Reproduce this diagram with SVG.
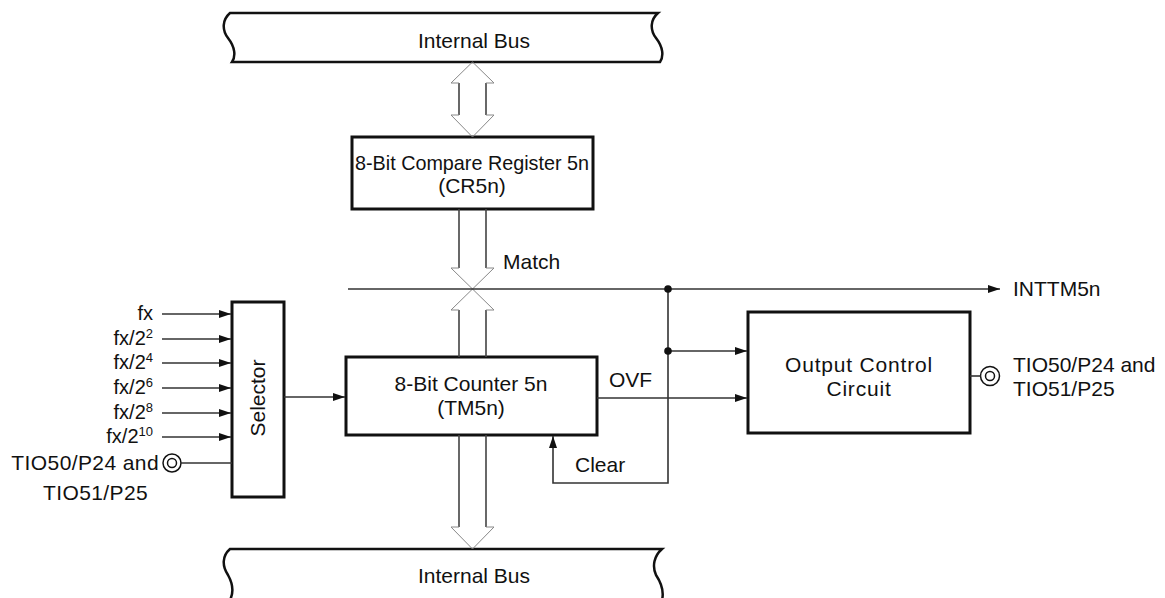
<svg xmlns="http://www.w3.org/2000/svg" width="1165" height="598" viewBox="0 0 1165 598">
<style>
text{font-family:"Liberation Sans",Arial,Helvetica,sans-serif;font-size:21px;fill:#111}
.sm{font-size:20px}
.box{fill:#fff;stroke:#111;stroke-width:3}
.bus{fill:#fff;stroke:#111;stroke-width:2.5}
.ln{fill:none;stroke:#333;stroke-width:1.6}
.sh{fill:none;stroke:#444;stroke-width:1.6}
.hd{fill:none;stroke:#888;stroke-width:1}
.mid{text-anchor:middle}
.end{text-anchor:end}
</style>
<defs>
<marker id="ah" viewBox="0 0 12 8" refX="12" refY="4" markerWidth="12" markerHeight="8" markerUnits="userSpaceOnUse" orient="auto">
<path d="M0,0 L12,4 L0,8 z" fill="#111"/>
</marker>
</defs>

<g id="bus-top">
<path class="bus" d="M230,13 L658,13 C650,20 650,30 656,38 C663,47 664,56 660,62 L232,62 C236,56 235,47 228,38 C222,30 222,20 230,13 Z"/>
<text class="mid" x="474" y="48">Internal Bus</text>
</g>

<g id="bus-bottom">
<path class="bus" d="M230,549 L662,549 C654,556 652,566 656,575 C662,584 664,592 662,600 L230,600 C234,592 233,584 228,575 C222,566 222,556 230,549 Z"/>
<text class="mid" x="474" y="583">Internal Bus</text>
</g>

<g id="cr5n">
<rect class="box" x="352" y="137" width="241" height="72"/>
<text class="mid" x="472" y="170" font-size="20" textLength="234" lengthAdjust="spacingAndGlyphs">8-Bit Compare Register 5n</text>
<text class="mid" x="472" y="193">(CR5n)</text>
</g>

<g id="tm5n">
<rect class="box" x="346" y="357" width="251" height="78"/>
<text class="mid" x="471" y="391">8-Bit Counter 5n</text>
<text class="mid" x="471" y="415">(TM5n)</text>
</g>

<g id="selector">
<rect class="box" x="232" y="302" width="52" height="195"/>
<text class="mid" transform="translate(265,398) rotate(-90)">Selector</text>
</g>

<g id="output-control">
<rect class="box" x="748" y="312" width="222" height="121"/>
<text class="mid" x="859" y="372" letter-spacing="0.8">Output Control</text>
<text class="mid" x="859" y="396" letter-spacing="0.8">Circuit</text>
</g>

<g id="inputs">
<text class="end sm" x="153" y="320">fx</text>
<text class="end sm" x="153" y="345">fx/2<tspan font-size="13" dy="-7">2</tspan></text>
<text class="end sm" x="153" y="369">fx/2<tspan font-size="13" dy="-7">4</tspan></text>
<text class="end sm" x="153" y="394">fx/2<tspan font-size="13" dy="-7">6</tspan></text>
<text class="end sm" x="153" y="419">fx/2<tspan font-size="13" dy="-7">8</tspan></text>
<text class="end sm" x="153" y="443">fx/2<tspan font-size="13" dy="-7">10</tspan></text>
</g>

<g id="pin-in">
<circle cx="172" cy="463" r="9" fill="#fff" stroke="#111" stroke-width="1.5"/>
<circle cx="172" cy="463" r="4.5" fill="none" stroke="#111" stroke-width="1.5"/>
<text class="end" x="159" y="470" letter-spacing="0.4">TIO50/P24 and</text>
<text x="43" y="500" letter-spacing="0.4">TIO51/P25</text>
</g>

<g id="pin-out">
<circle cx="990" cy="376" r="9.5" fill="#fff" stroke="#111" stroke-width="1.5"/>
<circle cx="990" cy="376" r="4.5" fill="none" stroke="#111" stroke-width="1.5"/>
<text x="1013" y="372">TIO50/P24 and</text>
<text x="1013" y="396">TIO51/P25</text>
</g>

<g id="connectors">
<path class="sh" d="M459,83 V115 M486,83 V115"/>
<path class="hd" d="M459,83 H451 L472.5,62 L494,83 H486 M459,115 H451 L472.5,137 L494,115 H486"/>
<path class="sh" d="M459,209 V268 M486,209 V268 M459,310 V357 M486,310 V357"/>
<path class="hd" d="M459,268 H451 L472.5,289 L494,268 H486 M459,310 H451 L472.5,289 L494,310 H486"/>
<path class="sh" d="M459,435 V527 M486,435 V527"/>
<path class="hd" d="M459,527 H451 L472.5,549 L494,527 H486"/>
<path class="ln" d="M348,289 H1000" marker-end="url(#ah)"/>
<path class="ln" d="M668,289 V483 H553 V436" marker-end="url(#ah)"/>
<path class="ln" d="M668,351 H747" marker-end="url(#ah)"/>
<path class="ln" d="M597,398 H747" marker-end="url(#ah)"/>
<path class="ln" d="M284,397 H345" marker-end="url(#ah)"/>
<circle cx="668" cy="289" r="3.8" fill="#111"/>
<circle cx="668" cy="351" r="3.8" fill="#111"/>
<path class="ln" d="M162,314 H231" marker-end="url(#ah)"/>
<path class="ln" d="M162,339 H231" marker-end="url(#ah)"/>
<path class="ln" d="M162,363 H231" marker-end="url(#ah)"/>
<path class="ln" d="M162,388 H231" marker-end="url(#ah)"/>
<path class="ln" d="M162,413 H231" marker-end="url(#ah)"/>
<path class="ln" d="M162,437 H231" marker-end="url(#ah)"/>
<path class="ln" d="M181,463 H232"/>
<path class="ln" d="M970,376 H980.5"/>
</g>

<g id="labels">
<text x="503" y="269">Match</text>
<text x="609" y="387">OVF</text>
<text x="575" y="472">Clear</text>
<text x="1013" y="296">INTTM5n</text>
</g>
</svg>
